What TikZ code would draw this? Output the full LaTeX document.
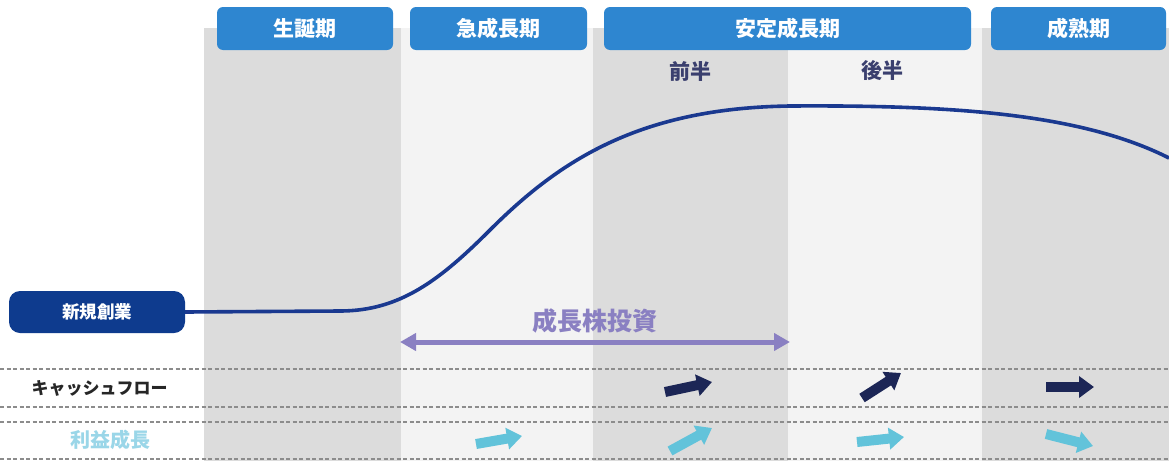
\documentclass[tikz,border=0pt]{standalone}
\usepackage{fontspec}
\setmainfont{Noto Sans CJK JP}
\usetikzlibrary{arrows.meta}
\definecolor{hdr}{HTML}{2E86D0}
\definecolor{colA}{HTML}{DCDCDC}
\definecolor{colB}{HTML}{F3F3F3}
\definecolor{navy}{HTML}{0E3B8E}
\definecolor{curve}{HTML}{1A3990}
\definecolor{dnavy}{HTML}{1C2656}
\definecolor{lblue}{HTML}{62C3DA}
\definecolor{lbtext}{HTML}{9AD6E8}
\definecolor{purp}{HTML}{8A80C2}
\definecolor{half}{HTML}{3A3F6E}
\definecolor{dash}{HTML}{8C8C8C}
\tikzset{
  hdrbox/.style={fill=hdr, rounded corners=6pt, text=white, font=\bfseries\fontsize{21}{21}\selectfont, anchor=center, minimum height=43pt, inner sep=0pt},
  halftxt/.style={text=half, font=\bfseries\fontsize{21}{21}\selectfont},
  dashline/.style={draw=dash, dash pattern=on 4pt off 2.5pt, line width=1.3pt},
  cfarrow/.style={line width=10pt, draw=dnavy, -{Triangle[width=21pt,length=15pt]}},
  pfarrow/.style={line width=10pt, draw=lblue, -{Triangle[width=21pt,length=15pt]}},
}
\begin{document}
\begin{tikzpicture}[x=1pt,y=-1pt]
\useasboundingbox (0,0) rectangle (1169,461);
\fill[white] (0,0) rectangle (1169,461);
% columns
\fill[colA] (204,28) rectangle (401,461);
\fill[colB] (401,28) rectangle (593,461);
\fill[colA] (593,28) rectangle (788,461);
\fill[colB] (788,28) rectangle (982,461);
\fill[colA] (982,28) rectangle (1169,461);
% headers
\node[hdrbox, minimum width=176pt] (h1) at (305,28.5) {生誕期};
\node[hdrbox, minimum width=177pt] (h2) at (498.5,28.5) {急成長期};
\node[hdrbox, minimum width=367pt] (h3) at (787.5,28.5) {安定成長期};
\node[hdrbox, minimum width=175pt] (h4) at (1078.5,28.5) {成熟期};
\node[halftxt] (zen) at (690,71) {前半};
\node[halftxt] (kou) at (882,71) {後半};
% start box
\node[fill=navy, rounded corners=11pt, text=white, minimum width=176pt, minimum height=42pt, inner sep=0pt, font=\bfseries\fontsize{17.5}{17.5}\selectfont] (start) at (97,312) {新規創業};
% curve
\coordinate (cend) at (1169,158);
\draw[curve, line width=3.6pt] (start.east) -- (340,311) .. controls (400,311) and (440,280) .. (490,230) .. controls (560,160) and (640,108) .. (790,106) .. controls (950,105) and (1080,113) .. (cend);
% double arrow
\coordinate (ia) at (400,342);
\coordinate (ib) at (790,342);
\draw[purp, line width=5pt, {Triangle[width=17pt,length=16pt]}-{Triangle[width=17pt,length=16pt]}] (ia) -- (ib);
\node[text=purp, font=\bfseries\fontsize{25}{25}\selectfont] (inv) at (595,321) {成長株投資};
% dashed lines
\draw[dashline] (0,369) -- (1169,369);
\draw[dashline] (0,407) -- (1169,407);
\draw[dashline] (0,422) -- (1169,422);
\draw[dashline] (0,459) -- (1169,459);
% row labels
\node[text=black!85, font=\bfseries\fontsize{17}{17}\selectfont] (cf) at (99.5,388) {キャッシュフロー};
\node[text=lbtext, font=\bfseries\fontsize{20}{20}\selectfont] (pf) at (110,440) {利益成長};
% cashflow arrows
\coordinate (c1a) at (665,392); \coordinate (c1b) at (712,382);
\draw[cfarrow] (c1a) -- (c1b);
\coordinate (c2a) at (862,398); \coordinate (c2b) at (901,373);
\draw[cfarrow] (c2a) -- (c2b);
\coordinate (c3a) at (1046,387); \coordinate (c3b) at (1094,387);
\draw[cfarrow] (c3a) -- (c3b);
% profit arrows
\coordinate (p1a) at (476,444); \coordinate (p1b) at (522,436);
\draw[pfarrow] (p1a) -- (p1b);
\coordinate (p2a) at (670,451); \coordinate (p2b) at (712,428);
\draw[pfarrow] (p2a) -- (p2b);
\coordinate (p3a) at (857,442); \coordinate (p3b) at (904,437);
\draw[pfarrow] (p3a) -- (p3b);
\coordinate (p4a) at (1046,434); \coordinate (p4b) at (1093,446);
\draw[pfarrow] (p4a) -- (p4b);
\end{tikzpicture}
\end{document}
